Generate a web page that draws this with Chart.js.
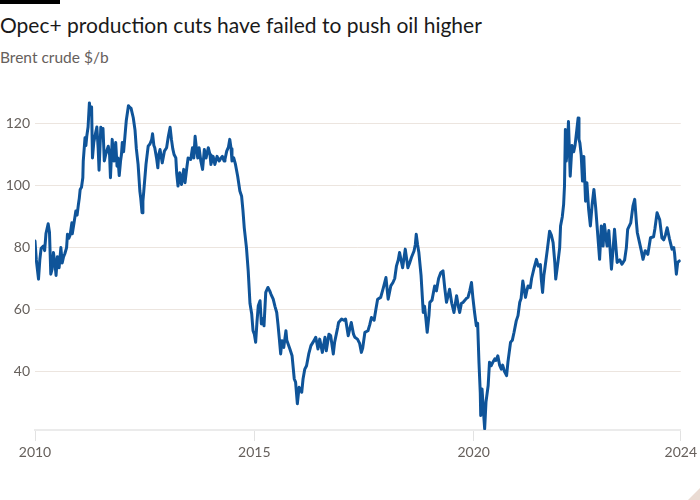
<!DOCTYPE html>
<html>
<head>
<meta charset="utf-8">
<script src="https://cdn.jsdelivr.net/npm/chart.js@4/dist/chart.umd.min.js"></script>
<style>
  html, body { margin: 0; padding: 0; background: #fff; }
  #wrap { position: relative; width: 700px; height: 500px; overflow: hidden; background: #fff; }
  #bar { position: absolute; left: 0; top: 0; width: 60px; height: 4px; background: #000; }
  #title { position: absolute; left: 0; top: 12px; font-family: Lato, sans-serif; font-weight: 400; font-size: 21px; line-height: 25px; color: #1a1a1a; white-space: nowrap; }
  #subtitle { position: absolute; left: 0; top: 48px; font-family: Lato, sans-serif; font-size: 15.5px; line-height: 19px; color: #66605c; white-space: nowrap; }
  #c { position: absolute; left: 0; top: 0; }
  #corner { position: absolute; right: 0; bottom: 0; width: 0; height: 0; border-left: 12px solid transparent; border-bottom: 12px solid #eadbd3; }
</style>
</head>
<body>
<div id="wrap">
  <div id="bar"></div>
  <div id="title">Opec+ production cuts have failed to push oil higher</div>
  <div id="subtitle">Brent crude $/b</div>
  <canvas id="c" width="700" height="500"></canvas>
  <div id="corner"></div>
</div>
<script>
// Dates as decimal years, Brent crude $/b
const dates = [
2010.00,2010.03,2010.08,2010.11,2010.14,2010.19,2010.22,2010.25,2010.30,2010.33,2010.36,2010.39,2010.42,2010.46,2010.48,2010.51,2010.55,2010.59,2010.62,2010.65,2010.68,2010.72,2010.74,2010.77,2010.80,2010.84,2010.85,2010.89,2010.93,2010.96,2010.99,
2011.01,2011.03,2011.06,2011.09,2011.10,2011.14,2011.16,2011.18,2011.21,2011.24,2011.26,2011.29,2011.31,2011.34,2011.38,2011.41,2011.44,2011.46,2011.50,2011.53,2011.55,2011.58,2011.61,2011.64,2011.67,2011.70,2011.72,2011.76,2011.78,2011.80,2011.84,2011.87,2011.89,2011.92,2011.95,2011.97,2011.99,
2012.02,2012.05,2012.08,2012.13,2012.15,2012.19,2012.24,2012.28,2012.31,2012.35,2012.39,2012.41,2012.44,2012.46,2012.48,2012.53,2012.58,2012.62,2012.66,2012.68,2012.71,2012.73,2012.77,2012.80,2012.82,2012.85,2012.90,2012.95,
2013.00,2013.04,2013.08,2013.11,2013.14,2013.17,2013.21,2013.23,2013.26,2013.30,2013.34,2013.39,2013.42,2013.46,2013.49,2013.55,2013.59,2013.62,2013.65,2013.68,2013.71,2013.74,2013.78,2013.82,2013.86,2013.90,2013.95,2013.99,
2014.01,2014.06,2014.10,2014.15,2014.20,2014.24,2014.27,2014.31,2014.33,2014.37,2014.41,2014.44,2014.47,2014.49,2014.53,2014.57,2014.62,2014.67,2014.71,2014.74,2014.77,2014.82,2014.86,2014.90,2014.94,2014.97,
2015.00,2015.03,2015.06,2015.09,2015.13,2015.16,2015.19,2015.22,2015.26,2015.31,2015.35,2015.38,2015.43,2015.47,2015.51,2015.54,2015.57,2015.60,2015.63,2015.67,2015.72,2015.74,2015.77,2015.81,2015.86,2015.91,2015.94,2015.96,2015.98,
2016.02,2016.08,2016.11,2016.15,2016.19,2016.24,2016.29,2016.36,2016.40,2016.45,2016.49,2016.55,2016.61,2016.64,2016.70,2016.74,2016.80,2016.83,2016.90,2016.92,2016.99,
2017.04,2017.08,2017.14,2017.18,2017.21,2017.26,2017.29,2017.35,2017.40,2017.44,2017.47,2017.52,2017.59,2017.63,2017.67,2017.73,2017.77,2017.81,2017.88,2017.94,
2018.00,2018.05,2018.11,2018.16,2018.20,2018.24,2018.28,2018.31,2018.38,2018.44,2018.50,2018.54,2018.58,2018.64,2018.67,2018.69,2018.72,2018.75,2018.80,2018.85,2018.88,2018.91,2018.94,2018.98,
2019.00,2019.05,2019.11,2019.15,2019.20,2019.25,2019.30,2019.34,2019.38,2019.45,2019.50,2019.55,2019.61,2019.65,2019.68,2019.72,2019.76,2019.83,2019.87,2019.91,2019.95,2019.98,
2020.02,2020.06,2020.09,2020.12,2020.15,2020.16,2020.19,2020.23,2020.25,2020.28,2020.33,2020.36,2020.40,2020.44,2020.48,2020.51,2020.55,2020.59,2020.63,2020.66,2020.70,2020.75,2020.78,2020.84,2020.88,2020.92,2020.97,
2021.01,2021.05,2021.08,2021.12,2021.18,2021.21,2021.24,2021.29,2021.32,2021.37,2021.43,2021.47,2021.52,2021.54,2021.57,2021.60,2021.62,2021.68,2021.73,2021.77,2021.81,2021.85,2021.87,2021.92,2021.96,2021.98,
2022.02,2022.05,2022.07,2022.09,2022.11,2022.14,2022.16,2022.20,2022.24,2022.28,2022.31,2022.35,2022.38,2022.40,2022.42,2022.45,2022.48,2022.51,2022.55,2022.58,2022.62,2022.66,2022.70,2022.74,2022.78,2022.83,2022.87,2022.91,2022.95,2022.98,
2023.04,2023.08,2023.14,2023.18,2023.21,2023.27,2023.33,2023.38,2023.44,2023.48,2023.51,2023.58,2023.63,2023.67,2023.71,2023.73,2023.78,2023.82,2023.86,2023.91,2023.97,
2024.03,2024.10,2024.13,2024.18,2024.24,2024.29,2024.33,2024.37,2024.41,2024.46,2024.52,2024.56,2024.58,2024.62,2024.65,2024.69
];
const prices = [
82.1,76,69.8,76,79.8,80.5,79,84.5,87.7,85,71.4,73,78.4,74,71,77,73.5,80,75,77,78,80,84.3,83,84,88,84.5,88,91.8,90.5,94,
96,98.8,99.5,102.6,108,115.5,113,116,119,126.8,124,125.5,109,114,117,119,112,105,118.9,116,118.5,108,110,111.5,112.8,110,102.6,115,111,108,114,106.3,109,103.3,108,110,114,
111,116,121,125.9,125.5,125,122,118,112,106.9,98.3,96,91.3,95,98.3,106.9,112.8,113.5,114.9,116.8,113,112.3,109,105.8,110,111.7,107.4,111.2,
112.3,116,118.9,115,112,110.1,109,104,99.9,104.2,100.4,105.3,101,105.8,109,108.5,112.3,109,116,112,109,112.3,108,105.3,111.7,109,112.3,110,
106.9,109.5,106.9,109.5,108,109,109.5,108,108.5,111.2,112.5,115,112,108,109,106.9,103.1,98.3,96.6,92,86.4,80,72.5,62,58.5,53.1,
52,49.4,56,61.2,62.8,55.3,57,54.7,65.5,67.1,66,64.9,63.3,61,59,55,50.4,45.6,49.9,47.7,53.1,50,48.8,47.2,45,37.5,36.5,33,29.5,
34.8,33.2,37.5,40.7,41.8,45.6,48.3,49.9,51,47.2,50.4,46.1,51,46.6,52,51.5,45.6,49.4,54.2,55.8,56.9,
56.5,56.9,51.5,54,55.8,52,51,50.4,49,46.1,47.5,52.6,53.1,55,57.4,56.5,60,63.3,63.9,67,
70.3,63.3,67.6,68.7,70,74.1,76,78.4,73.5,79.5,73.5,75,76.8,78.9,81,84.3,81,78.4,71,59,61,57,52.6,58,
62.3,63,67.6,66,70,71.9,72.5,67,62.3,66.5,62,59,64.4,61,59,62,62.3,63.5,63.9,66,68.7,64,
59,54.7,55.5,42.9,33,25.7,34.3,25.5,21.4,30,35.4,42.9,41.8,43,44,43.5,45,42,40.7,42,40,38.6,42.9,49.4,50,52.6,56.3,
58,62.3,63.5,69.2,63.9,66,67.6,67,70,73,76.2,74,74.5,70,65.5,71,73,79.5,85.3,84,81.6,75,69.8,75.2,80,87,
90,94,100,118.2,108,113,120.8,103.1,113,111,113,118,121.9,115,113.9,110,101.5,109.5,95,101,92.4,87,94,98.8,93,83.7,76.2,87,80.5,87.5,
80.5,85.5,73,80,85.9,75.2,76,74.6,76,80,85.9,88,93.4,95.6,88,84.8,81.6,79,76.2,79,77.8,
83.2,83.5,86,91.3,89,83.2,82.5,84,86.4,83,79.5,80,78,71.4,75.2,75.7
];
const yTicks = [40, 60, 80, 100, 120];
const xTicks = [2010, 2015, 2020, 2024.72];
const xTickLabels = ['2010', '2015', '2020', '2024'];

const labelFont = { family: 'Lato, sans-serif', size: 14 };
const labelColor = '#66605c';

new Chart(document.getElementById('c'), {
  type: 'line',
  data: {
    datasets: [{
      data: dates.map((d, i) => ({ x: d, y: prices[i] })),
      borderColor: '#0f5499',
      borderWidth: 3,
      pointRadius: 0,
      tension: 0,
      borderJoinStyle: 'round',
      borderCapStyle: 'round',
      fill: false
    }]
  },
  options: {
    responsive: false,
    animation: false,
    events: [],
    layout: { autoPadding: false, padding: { top: 93, right: 18, bottom: 0, left: 0 } },
    plugins: { legend: { display: false }, tooltip: { enabled: false }, title: { display: false } },
    scales: {
      x: {
        type: 'linear',
        min: 2010,
        max: 2024.72,
        afterBuildTicks: s => { s.ticks = xTicks.map(v => ({ value: v })); },
        afterFit: s => { s.height = 70; },
        ticks: {
          autoSkip: false, maxRotation: 0, padding: 3,
          font: labelFont, color: labelColor,
          callback: (v, i) => xTickLabels[i]
        },
        grid: { drawOnChartArea: false, drawTicks: true, tickLength: 11, color: '#e2e2e2', lineWidth: 1 },
        border: { display: true, color: '#ebebeb', width: 2 }
      },
      y: {
        min: 21,
        max: 130,
        afterBuildTicks: s => { s.ticks = yTicks.map(v => ({ value: v })); },
        afterFit: s => { s.width = 35; },
        ticks: { padding: 5, font: labelFont, color: labelColor },
        grid: { drawTicks: false, color: '#ece5df', lineWidth: 1 },
        border: { display: false }
      }
    }
  }
});
</script>
</body>
</html>
